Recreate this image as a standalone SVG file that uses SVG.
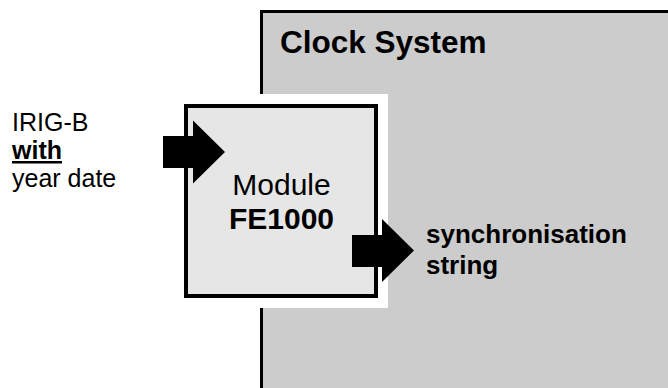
<svg xmlns="http://www.w3.org/2000/svg" width="668" height="388" viewBox="0 0 668 388">
  <style>
    text { font-family: "Liberation Sans", Arial, sans-serif; fill: #000; }
    .reg { font-weight: normal; }
    .bold { font-weight: bold; }
    .arrow { fill: #000; stroke: none; }
  </style>
  <rect x="0" y="0" width="668" height="388" fill="#ffffff"/>
  <g id="clock-system">
    <rect x="261.5" y="11.5" width="500" height="500" fill="#cccccc" stroke="#000" stroke-width="3"/>
    <rect x="240" y="94" width="148" height="214" fill="#ffffff"/>
    <text class="bold" x="280" y="53" font-size="31.5">Clock System</text>
  </g>
  <g id="module">
    <rect x="186" y="106" width="190" height="190" fill="#e6e6e6" stroke="#000" stroke-width="4"/>
    <text class="reg" x="281.5" y="195" font-size="30" text-anchor="middle">Module</text>
    <text class="bold" x="281.5" y="229" font-size="30" text-anchor="middle">FE1000</text>
  </g>
  <g id="input-label">
    <text class="reg" x="12" y="130.5" font-size="25">IRIG-B</text>
    <text class="bold" x="12" y="159" font-size="25" text-decoration="underline">with</text>
    <text class="reg" x="12" y="187" font-size="25">year date</text>
  </g>
  <g id="output-label">
    <text class="bold" x="426" y="243" font-size="26">synchronisation</text>
    <text class="bold" x="426" y="274" font-size="26">string</text>
  </g>
  <g id="connectors">
    <polygon class="arrow" points="163,136 193,136 193,120.5 225,152 193,183.5 193,168 163,168"/>
    <polygon class="arrow" points="352,235 382,235 382,219 414,250.5 382,282 382,267 352,267"/>
  </g>
</svg>
